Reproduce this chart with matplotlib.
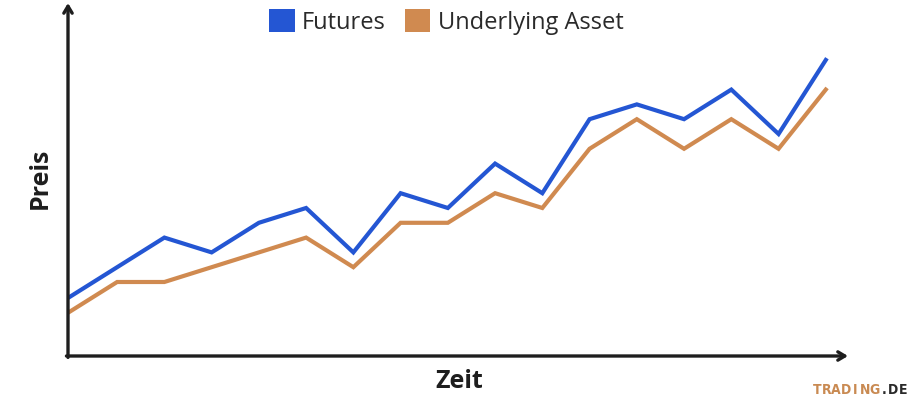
import matplotlib.pyplot as plt
from matplotlib.patches import Patch

# time steps and prices (arbitrary units)
steps = list(range(17))
futures = [4, 6, 8, 7, 9, 10, 7, 11, 10, 13, 11, 16, 17, 16, 18, 15, 20]
underlying = [3, 5, 5, 6, 7, 8, 6, 9, 9, 11, 10, 14, 16, 14, 16, 14, 18]
series_names = ["Futures", "Underlying Asset"]
series_colors = ["#2456d3", "#d08a50"]

plt.rcParams['font.family'] = ['Open Sans', 'DejaVu Sans']

fig = plt.figure(figsize=(9.1, 3.98), dpi=100)
ax = fig.add_axes([68 / 910, 1 - 356 / 398, (848 - 68) / 910, (356 - 3) / 398])
ax.set_xlim(-0.04, 16.47)
ax.set_ylim(0, 23.85)
for s in ax.spines.values():
    s.set_visible(False)
ax.set_xticks([])
ax.set_yticks([])
ax.patch.set_alpha(0)

ax.plot(steps, underlying, color=series_colors[1], linewidth=3.0, solid_joinstyle='miter')
ax.plot(steps, futures, color=series_colors[0], linewidth=3.0, solid_joinstyle='miter')

# axis arrows
arrow_kw = dict(arrowstyle='->,head_length=0.5,head_width=0.3', color='#1e1e1e', lw=2.4,
                shrinkA=0, shrinkB=0)
ax.annotate('', xy=(1, 0), xytext=(-0.002, 0), xycoords='axes fraction',
            arrowprops=arrow_kw, annotation_clip=False)
ax.annotate('', xy=(0, 1), xytext=(0, -0.004), xycoords='axes fraction',
            arrowprops=arrow_kw, annotation_clip=False)

fig.text(40 / 910, 1 - 178 / 398, "Preis", rotation=90, ha='center', va='center',
         fontsize=18, fontweight='bold', color='#1e1e1e')
fig.text(459 / 910, 1 - 381 / 398, "Zeit", ha='center', va='center',
         fontsize=18, fontweight='bold', color='#1e1e1e')

handles = [Patch(facecolor=c, edgecolor='none') for c in series_colors]
fig.legend(handles, series_names, loc='center', bbox_to_anchor=(446 / 910, 1 - 22 / 398),
           ncol=2, frameon=False, fontsize=17, handlelength=1.1, handleheight=1.1,
           handletextpad=0.3, columnspacing=0.8, labelcolor='#2a2a2a')

# watermark, letter-spaced
wm_kw = dict(ha='center', va='center', fontsize=10, fontweight='bold',
             family='DejaVu Sans', fontstretch='condensed')
for i, ch in enumerate("TRADING"):
    fig.text((817 + i * 9.6) / 910, 1 - 390 / 398, ch, color='#c98a52', **wm_kw)
for ch, x in zip(".DE", [884, 893, 903]):
    fig.text(x / 910, 1 - 390 / 398, ch, color='#2a2a2a', **wm_kw)

fig.savefig("out.png", dpi=100)
